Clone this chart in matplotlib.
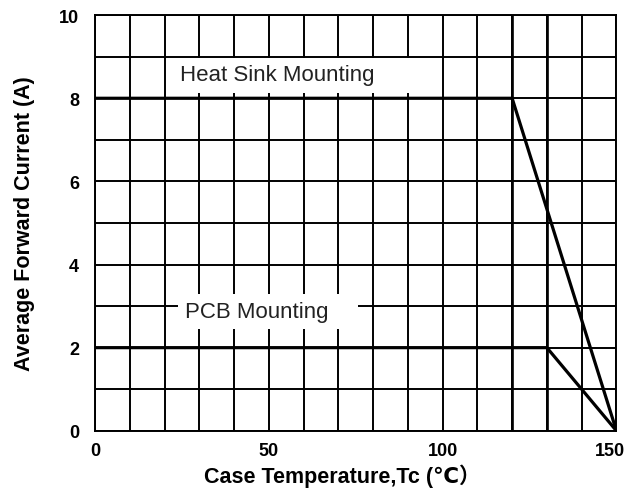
import matplotlib.pyplot as plt
from matplotlib.patches import Rectangle
from matplotlib.transforms import ScaledTranslation
import numpy as np

plt.rcParams['font.family'] = ['Liberation Sans', 'DejaVu Sans', 'Noto Sans CJK SC']

# derating curves
heat_sink_temp = [0, 120, 150]
heat_sink_current = [8, 8, 0]
pcb_temp = [0, 130, 150]
pcb_current = [2, 2, 0]

x_ticks = [0, 50, 100, 150]
y_ticks = [0, 2, 4, 6, 8, 10]
knee_temps = [120, 130]

fig = plt.figure(figsize=(6.29, 4.89), dpi=100)
ax = fig.add_axes([0.151, 0.117, 0.829, 0.850])

# grid
for x in np.arange(0, 151, 10):
    ax.axvline(x, color='black', linewidth=1.4, zorder=1)
for y in np.arange(0, 11, 1):
    ax.axhline(y, color='black', linewidth=1.4, zorder=1)
for x in knee_temps:
    ax.axvline(x, color='black', linewidth=1.9, zorder=1)

ax.plot(heat_sink_temp, heat_sink_current, color='black', linewidth=2.3, zorder=3)
ax.plot(pcb_temp, pcb_current, color='black', linewidth=2.3, zorder=3)

# white label boxes that blank the grid behind the text
ax.add_patch(Rectangle((20.4, 8.12), 79.2, 0.86, facecolor='white', edgecolor='none', zorder=2))
ax.add_patch(Rectangle((24.0, 2.45), 51.8, 0.84, facecolor='white', edgecolor='none', zorder=2))
ax.text(24.5, 8.58, 'Heat Sink Mounting', fontsize=16, va='center', ha='left', zorder=4,
        color='#222222')
ax.text(25.8, 2.86, 'PCB Mounting', fontsize=16, va='center', ha='left', zorder=4,
        color='#222222')

ax.set_xlim(0, 150)
ax.set_ylim(0, 10)
ax.set_xticks(x_ticks)
ax.set_yticks(y_ticks)
ax.tick_params(length=0, labelsize=13)
ax.tick_params(axis='y', pad=11.5)
ax.tick_params(axis='x', pad=8)
for lab in ax.get_xticklabels() + ax.get_yticklabels():
    lab.set_fontweight('bold')
for s in ax.spines.values():
    s.set_linewidth(1.4)

ax.set_xlabel('Case Temperature,Tc (℃）', fontsize=15.5, fontweight='bold', labelpad=3)
ax.xaxis.label.set_x(0.475)
ax.set_ylabel('Average Forward Current (A)', fontsize=15.5, fontweight='bold', labelpad=17)

# nudge the last x tick label left so it stays inside the figure
last = ax.xaxis.get_major_ticks()[-1].label1
last.set_transform(last.get_transform() + ScaledTranslation(-5 / 72, 0, fig.dpi_scale_trans))

fig.savefig('out.png', dpi=100)
